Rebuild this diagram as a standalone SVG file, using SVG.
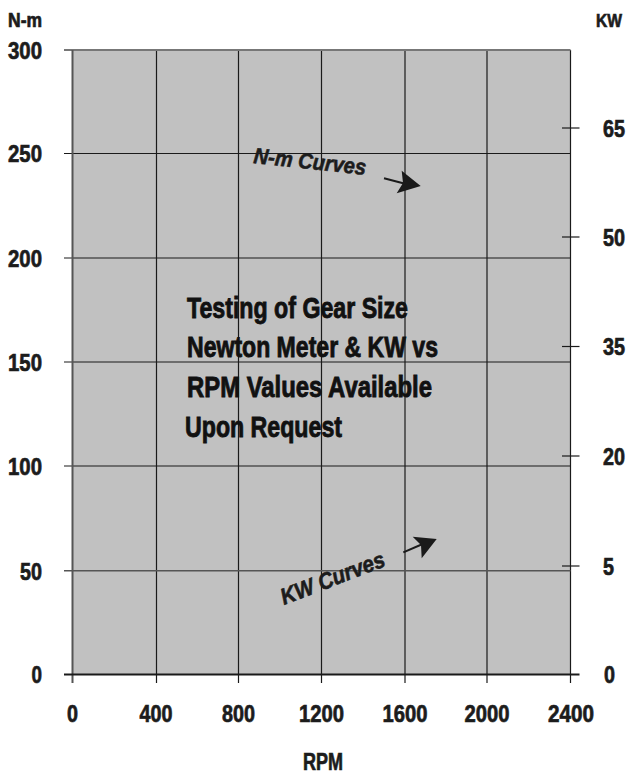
<svg xmlns="http://www.w3.org/2000/svg" width="629" height="776" viewBox="0 0 629 776">
<style>
.lbl{font-family:"Liberation Sans",Arial,sans-serif;font-weight:bold;font-size:24px;fill:#1c1c1c;stroke:#1c1c1c;stroke-width:0.7}
.ttl{font-family:"Liberation Sans",Arial,sans-serif;font-weight:bold;font-size:30px;fill:#111;stroke:#111;stroke-width:0.9}
.cur{font-family:"Liberation Sans",Arial,sans-serif;font-weight:bold;font-style:italic;font-size:22px;fill:#1c1c1c;stroke:#1c1c1c;stroke-width:0.6}
.g{stroke:#1a1a1a;stroke-width:1.2;fill:none}
.gg{stroke:#555;stroke-width:1.4;fill:none}
.tk{stroke:#1a1a1a;stroke-width:1.2}
</style>
<rect width="629" height="776" fill="#fff"/>
<g id="plot">
<rect x="72.5" y="50" width="498" height="624.5" fill="#c1c1c1"/>
<g id="grid-v">
<line class="g" x1="156.5" y1="50" x2="156.5" y2="683"/>
<line class="g" x1="238.5" y1="50" x2="238.5" y2="683"/>
<line class="g" x1="321.5" y1="50" x2="321.5" y2="683"/>
<line class="g" x1="405" y1="50" x2="405" y2="683"/>
<line class="g" x1="487" y1="50" x2="487" y2="683"/>
<line class="g" x1="570.5" y1="50" x2="570.5" y2="683"/>
</g>
<g id="grid-h">
<line class="g" x1="64" y1="153.5" x2="570.5" y2="153.5"/>
<line class="g" x1="64" y1="258" x2="570.5" y2="258"/>
<line class="g" x1="64" y1="362" x2="570.5" y2="362"/>
<line class="g" x1="64" y1="466" x2="570.5" y2="466"/>
<line class="gg" x1="64" y1="570.7" x2="570.5" y2="570.7"/>
</g>
<line x1="64" y1="50" x2="570.5" y2="50" stroke="#777" stroke-width="2"/>
<line x1="72.5" y1="50" x2="72.5" y2="683" stroke="#555" stroke-width="2"/>
<line x1="64" y1="674.5" x2="579.5" y2="674.5" stroke="#1a1a1a" stroke-width="1.8"/>
<g id="right-ticks">
<line class="tk" x1="562" y1="128" x2="579.5" y2="128"/>
<line class="tk" x1="562" y1="237" x2="579.5" y2="237" stroke="#555"/>
<line class="tk" x1="562" y1="346.5" x2="579.5" y2="346.5"/>
<line class="tk" x1="562" y1="456" x2="579.5" y2="456" stroke="#555"/>
<line class="tk" x1="562" y1="566" x2="579.5" y2="566" stroke="#555"/>
</g>
</g>
<g id="left-axis">
<text class="lbl" x="8" y="27" style="font-size:20px" textLength="34" lengthAdjust="spacingAndGlyphs">N-m</text>
<text class="lbl" x="42" y="59" text-anchor="end" textLength="34" lengthAdjust="spacingAndGlyphs">300</text>
<text class="lbl" x="42" y="162.3" text-anchor="end" textLength="34" lengthAdjust="spacingAndGlyphs">250</text>
<text class="lbl" x="42" y="266.8" text-anchor="end" textLength="34" lengthAdjust="spacingAndGlyphs">200</text>
<text class="lbl" x="42" y="370.8" text-anchor="end" textLength="34" lengthAdjust="spacingAndGlyphs">150</text>
<text class="lbl" x="42" y="474.8" text-anchor="end" textLength="34" lengthAdjust="spacingAndGlyphs">100</text>
<text class="lbl" x="42" y="579.5" text-anchor="end" textLength="22" lengthAdjust="spacingAndGlyphs">50</text>
<text class="lbl" x="42" y="683.3" text-anchor="end" textLength="10.5" lengthAdjust="spacingAndGlyphs">0</text>
</g>
<g id="right-axis">
<text class="lbl" x="596" y="27" style="font-size:19px" textLength="26" lengthAdjust="spacingAndGlyphs">KW</text>
<text class="lbl" x="603" y="136.5" textLength="22" lengthAdjust="spacingAndGlyphs">65</text>
<text class="lbl" x="603" y="245.5" textLength="22" lengthAdjust="spacingAndGlyphs">50</text>
<text class="lbl" x="603" y="355" textLength="22" lengthAdjust="spacingAndGlyphs">35</text>
<text class="lbl" x="603" y="464.5" textLength="22" lengthAdjust="spacingAndGlyphs">20</text>
<text class="lbl" x="603" y="574.5" textLength="11" lengthAdjust="spacingAndGlyphs">5</text>
<text class="lbl" x="604" y="683.3" textLength="11" lengthAdjust="spacingAndGlyphs">0</text>
</g>
<g id="bottom-axis">
<text class="lbl" x="72.5" y="721.7" text-anchor="middle" textLength="11" lengthAdjust="spacingAndGlyphs">0</text>
<text class="lbl" x="156" y="721.7" text-anchor="middle" textLength="33" lengthAdjust="spacingAndGlyphs">400</text>
<text class="lbl" x="238.5" y="721.7" text-anchor="middle" textLength="33" lengthAdjust="spacingAndGlyphs">800</text>
<text class="lbl" x="321.5" y="721.7" text-anchor="middle" textLength="45" lengthAdjust="spacingAndGlyphs">1200</text>
<text class="lbl" x="405" y="721.7" text-anchor="middle" textLength="45" lengthAdjust="spacingAndGlyphs">1600</text>
<text class="lbl" x="487" y="721.7" text-anchor="middle" textLength="45" lengthAdjust="spacingAndGlyphs">2000</text>
<text class="lbl" x="571" y="721.7" text-anchor="middle" textLength="46" lengthAdjust="spacingAndGlyphs">2400</text>
<text class="lbl" x="323" y="770" text-anchor="middle" textLength="40" lengthAdjust="spacingAndGlyphs">RPM</text>
</g>
<g id="note">
<text class="ttl" x="187" y="318" textLength="221" lengthAdjust="spacingAndGlyphs">Testing of Gear Size</text>
<text class="ttl" x="187" y="357" textLength="251" lengthAdjust="spacingAndGlyphs">Newton Meter &amp; KW vs</text>
<text class="ttl" x="187" y="397" textLength="245" lengthAdjust="spacingAndGlyphs">RPM Values Available</text>
<text class="ttl" x="185" y="437" textLength="157" lengthAdjust="spacingAndGlyphs">Upon Request</text>
</g>
<g id="nm-curves">
<text class="cur" transform="translate(253,163) rotate(6)" textLength="113" lengthAdjust="spacingAndGlyphs">N-m Curves</text>
</g>
<g id="kw-curves">
<text class="cur" style="font-size:23px" transform="translate(284,605) rotate(-21)" textLength="110" lengthAdjust="spacingAndGlyphs">KW Curves</text>
</g>
<g id="connectors" fill="#1a1a1a">
<line x1="384" y1="178.3" x2="406" y2="184" stroke="#1a1a1a" stroke-width="2"/>
<polygon points="401.7,170.7 420.7,186 396.7,193.3 403,183"/>
<line x1="403.3" y1="552.3" x2="425" y2="543" stroke="#1a1a1a" stroke-width="2"/>
<polygon points="412.7,536.7 436.7,539 421.7,558.3 421,545"/>
</g>
</svg>
